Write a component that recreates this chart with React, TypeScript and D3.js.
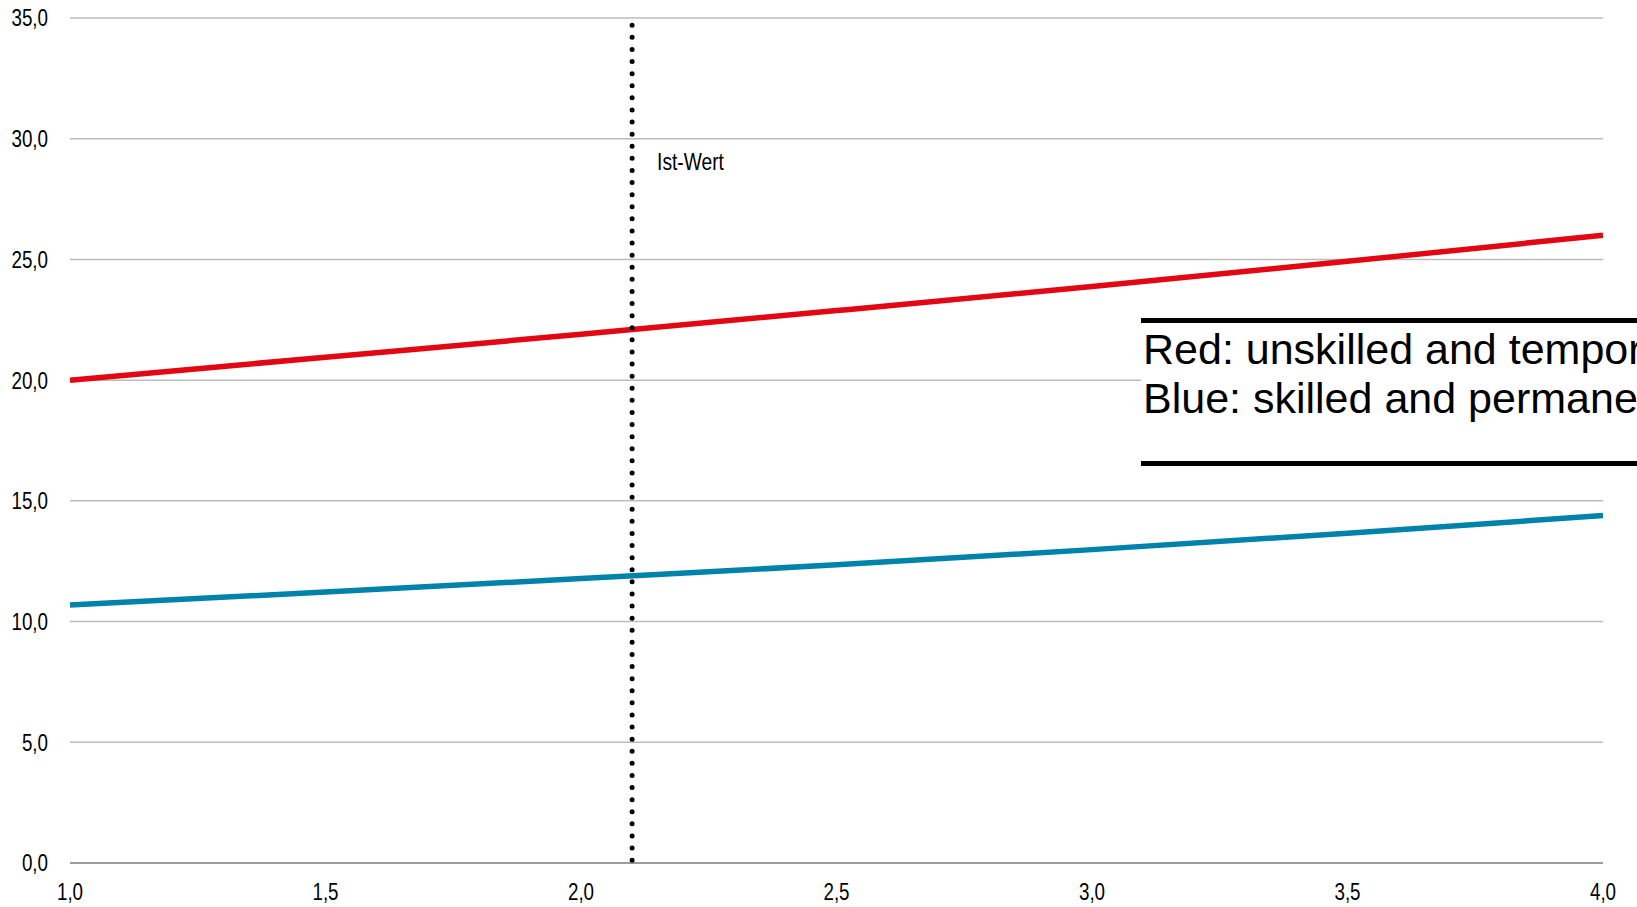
import React from "react";
import * as d3 from "d3";

// Predicted values along the x axis
const xValues = [1.0, 1.5, 2.0, 2.5, 3.0, 3.5, 4.0];
const redValues = [20.0, 20.95, 21.9, 22.88, 23.88, 24.92, 26.0];
const blueValues = [10.69, 11.22, 11.78, 12.35, 12.98, 13.66, 14.39];

const yTicks = [0, 5, 10, 15, 20, 25, 30, 35];
const xTicks = [1.0, 1.5, 2.0, 2.5, 3.0, 3.5, 4.0];

const istWert = 2.1;
const istLabel = "Ist-Wert";
const legendLines = ["Red: unskilled and temporary", "Blue: skilled and permanent"];

const W = 1637;
const H = 907;

// condensed label text (horizontally squeezed sans)
function Narrow(props: { x: number; y: number; anchor?: string; dy?: string; size?: number; children: React.ReactNode }) {
  const { x, y, anchor = "start", dy, size = 23.5, children } = props;
  return (
    <text
      transform={`translate(${x},${y}) scale(0.8,1)`}
      dy={dy}
      textAnchor={anchor}
      fontFamily="'Liberation Sans', Arial, sans-serif"
      fontSize={size}
      fill="#000"
    >
      {children}
    </text>
  );
}

export default function App() {
  const x = d3.scaleLinear().domain([1, 4]).range([70, 1603]);
  const y = d3.scaleLinear().domain([0, 35]).range([863, 18]);
  const fmt = (v: number) => v.toFixed(1).replace(".", ",");
  const line = d3
    .line<number>()
    .x((_, i) => x(xValues[i]))
    .y((d) => y(d))
    .curve(d3.curveMonotoneX);

  return (
    <div style={{ position: "fixed", left: 0, top: 0, width: W, height: H, overflow: "hidden", background: "#fff" }}>
      <svg width={W} height={H} style={{ display: "block" }}>
        {/* grid */}
        {yTicks.map((t) => (
          <line
            key={t}
            x1={x(1)}
            x2={x(4)}
            y1={y(t)}
            y2={y(t)}
            stroke={t === 0 ? "#9c9c9c" : "#bcbcbc"}
            strokeWidth={t === 0 ? 2 : 1.5}
          />
        ))}
        {yTicks.map((t) => (
          <Narrow key={"yl" + t} x={48} y={y(t)} dy="0.36em" anchor="end">
            {fmt(t)}
          </Narrow>
        ))}
        {xTicks.map((t) => (
          <Narrow key={"xl" + t} x={x(t)} y={900} anchor="middle">
            {fmt(t)}
          </Narrow>
        ))}

        {/* series */}
        <path d={line(redValues) || ""} fill="none" stroke="#e30613" strokeWidth={5.5} />
        <path d={line(blueValues) || ""} fill="none" stroke="#0083ab" strokeWidth={5.5} />

        {/* reference marker */}
        <line
          x1={x(istWert)}
          x2={x(istWert)}
          y1={y(34.7)}
          y2={y(0)}
          stroke="#000"
          strokeWidth={5}
          strokeLinecap="round"
          strokeDasharray="0 12.1"
        />
        <Narrow x={x(istWert) + 25} y={170} size={24}>
          {istLabel}
        </Narrow>

        {/* legend note */}
        <rect x={1141} y={318} width={W - 1141} height={148} fill="#fff" />
        <line x1={1141} x2={W} y1={320.5} y2={320.5} stroke="#000" strokeWidth={5} />
        <line x1={1141} x2={W} y1={463.5} y2={463.5} stroke="#000" strokeWidth={5} />
        {legendLines.map((s, i) => (
          <text
            key={s}
            x={1143}
            y={364 + i * 49}
            fontFamily="'Liberation Sans', Arial, sans-serif"
            fontSize={43}
            fill="#000"
          >
            {s}
          </text>
        ))}
      </svg>
    </div>
  );
}
